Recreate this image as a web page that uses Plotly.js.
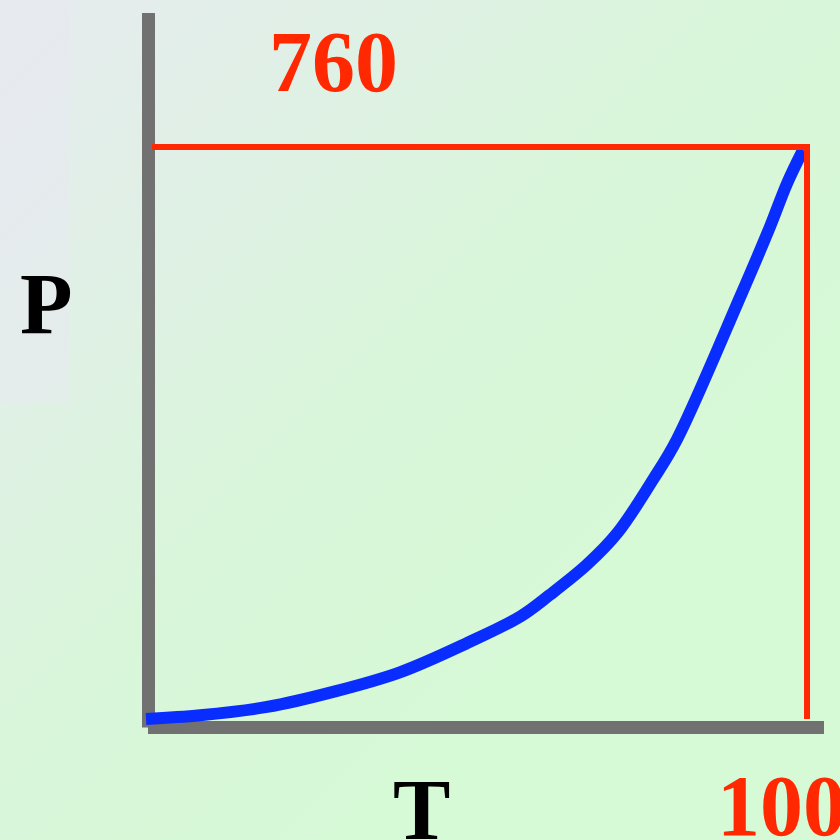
<!DOCTYPE html>
<html>
<head>
<meta charset="utf-8">
<script src="https://cdn.plot.ly/plotly-3.0.1.min.js"></script>
<style>
  html, body { margin: 0; padding: 0; width: 840px; height: 840px; overflow: hidden; }
  body { background: linear-gradient(135deg, #e7ebef 0%, #e0f0e6 22%, #d9f6da 45%, #d6f9d6 70%, #d6f9d6 100%); }
  #chart { width: 840px; height: 840px; }
</style>
</head>
<body>
<div id="chart"></div>
<script>
// Temperature (T) and vapour pressure (P)
const temperature = [0, 8.2, 18.3, 28.3, 38.4, 48.6, 56.6, 61.1, 66.7, 71.3, 76.7, 80.3, 89.9, 94.4, 97.0, 99.4];
const pressure    = [0, 5, 16, 36, 62, 101, 136, 165, 205, 247, 318, 371, 561, 654, 712, 756];

// Boiling point reference values
const boilT = 100;
const atmP = 760;
const tStart = 0;
const pStart = 0;

// Labels
const xTitle = 'T';
const yTitle = 'P';
const pLabel = String(atmP);
const tLabel = String(boilT);

const curve = {
  x: temperature,
  y: pressure,
  mode: 'lines',
  line: { color: '#0a2dff', width: 12, shape: 'spline', smoothing: 1.0 },
  hoverinfo: 'skip'
};

const guide = {
  x: [tStart + 0.9, boilT, boilT],
  y: [atmP, atmP, pStart],
  mode: 'lines',
  line: { color: '#ff2800', width: 6 },
  hoverinfo: 'skip'
};

const W = 840;
const px = v => v / W;
const py = v => 1 - v / W;

const serifBold = { family: '"Liberation Serif", "Times New Roman", serif', size: 86 };

const layout = {
  width: 840,
  height: 840,
  margin: { l: 0, r: 0, t: 0, b: 0 },
  paper_bgcolor: 'rgba(0,0,0,0)',
  plot_bgcolor: 'rgba(0,0,0,0)',
  showlegend: false,
  hovermode: false,
  xaxis: { range: [-22.09, 104.99], visible: false, fixedrange: true },
  yaxis: { range: [-160.8, 955.3], visible: false, fixedrange: true },
  shapes: [
    { type: 'rect', xref: 'paper', yref: 'paper', x0: 0, x1: px(70), y0: py(403), y1: 1,
      fillcolor: 'rgba(232,234,240,0.55)', line: { width: 0 }, layer: 'below' },
    { type: 'rect', xref: 'paper', yref: 'paper', x0: px(142), x1: px(155), y0: py(727.5), y1: py(13),
      fillcolor: '#717171', line: { width: 0 }, layer: 'below' },
    { type: 'rect', xref: 'paper', yref: 'paper', x0: px(148), x1: px(824), y0: py(734), y1: py(721),
      fillcolor: '#717171', line: { width: 0 }, layer: 'below' }
  ],
  annotations: [
    { text: '<b>' + pLabel + '</b>', xref: 'paper', yref: 'paper', x: px(333), y: py(62),
      xanchor: 'center', yanchor: 'middle', showarrow: false,
      font: Object.assign({}, serifBold, { color: '#ff2800' }) },
    { text: '<b>' + yTitle + '</b>', xref: 'paper', yref: 'paper', x: px(46.5), y: py(304),
      xanchor: 'center', yanchor: 'middle', showarrow: false,
      font: Object.assign({}, serifBold, { color: '#000000' }) },
    { text: '<b>' + xTitle + '</b>', xref: 'paper', yref: 'paper', x: px(421), y: py(810),
      xanchor: 'center', yanchor: 'middle', showarrow: false,
      font: Object.assign({}, serifBold, { color: '#000000' }) },
    { text: '<b>' + tLabel + '</b>', xref: 'paper', yref: 'paper', x: px(715), y: py(806),
      xanchor: 'left', yanchor: 'middle', showarrow: false,
      font: Object.assign({}, serifBold, { color: '#ff2800' }) }
  ]
};

Plotly.newPlot('chart', [curve, guide], layout, { staticPlot: true, displayModeBar: false });
</script>
</body>
</html>
